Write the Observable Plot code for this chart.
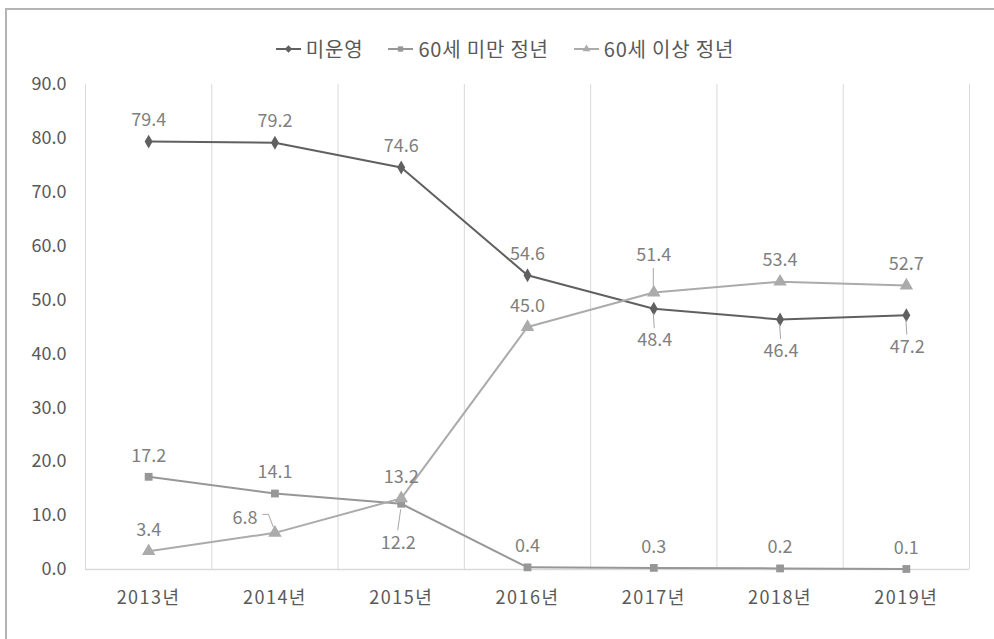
<!DOCTYPE html>
<html>
<head>
<meta charset="utf-8">
<script src="https://cdn.jsdelivr.net/npm/d3@7"></script>
<script src="https://cdn.jsdelivr.net/npm/@observablehq/plot@0.6"></script>
<style>
  html, body { margin: 0; padding: 0; background: #fff; }
  #frame { position: relative; width: 994px; height: 639px; overflow: hidden; font-family: "Noto Sans CJK KR", "Noto Sans", sans-serif; }
  #border { position: absolute; left: 5px; top: 8px; width: 1100px; height: 800px; border-left: 2px solid #b4b4b4; border-top: 2px solid #b4b4b4; }
  #legend { position: absolute; top: 34px; left: 8px; width: 994px; display: flex; justify-content: center; gap: 25px; font-size: 20px; letter-spacing: 0.8px; color: #595959; }
  #legend .item { display: flex; align-items: center; }
  #legend svg { margin-right: 5px; }
  #chart { position: absolute; left: 0; top: 64px; }
  #chart g[aria-label="x-axis tick label"] text { letter-spacing: 1.5px; }
</style>
</head>
<body>
<div id="frame">
  <div id="border"></div>
  <div id="legend"></div>
  <div id="chart"></div>
</div>
<script>
// ---- data ----
const years = [2013, 2014, 2015, 2016, 2017, 2018, 2019];
const seriesNames = ["미운영", "60세 미만 정년", "60세 이상 정년"];
const unoperated = [79.4, 79.2, 74.6, 54.6, 48.4, 46.4, 47.2];
const under60 = [17.2, 14.1, 12.2, 0.4, 0.3, 0.2, 0.1];
const over60 = [3.4, 6.8, 13.2, 45.0, 51.4, 53.4, 52.7];
const yTicks = [0, 10, 20, 30, 40, 50, 60, 70, 80, 90];
// label placement keys per point
const placeUnoperated = ["above", "above", "above", "above", "below", "below", "below"];
const placeUnder60 = ["above", "above", "belowFar", "above", "above", "above", "above"];
const placeOver60 = ["above", "left", "above", "above", "aboveFar", "above", "above"];

// ---- styling / layout ----
const styles = [
  {stroke: "#606060", symbol: "diamond", r: 4.2},
  {stroke: "#979797", symbol: "square", r: 4.4},
  {stroke: "#ababab", symbol: "triangle", r: 5}
];
const placements = {
  above:    {dx: 0,   dy: -21},
  below:    {dx: 1,   dy: 32, lead: [[0, 5], [1, 20]]},
  belowFar: {dx: -3,  dy: 39, lead: [[0, 6], [-3, 27]]},
  aboveFar: {dx: 0,   dy: -37, lead: [[0, -6], [0, -24]]},
  left:     {dx: -30, dy: -15, lead: [[-1, -5], [-6, -18], [-12, -18]]}
};

const values = [unoperated, under60, over60];
const places = [placeUnoperated, placeUnder60, placeOver60];
const rows = [];
seriesNames.forEach((s, si) => {
  years.forEach((yr, i) => rows.push({series: s, si, year: yr, value: values[si][i], place: places[si][i]}));
});
const boundaries = [...years.map(y => y - 0.5), years[years.length - 1] + 0.5];

const marks = [
  Plot.ruleX(boundaries, {x: d => d, y1: 0, y2: yTicks[yTicks.length - 1], stroke: "#d9d9d9", strokeWidth: 1}),
  Plot.ruleY([0], {stroke: "#d9d9d9", strokeWidth: 1.5}),
  Plot.axisY({ticks: yTicks, tickFormat: d => d.toFixed(1), tickSize: 0, tickPadding: 19, fill: "#595959", fontSize: 18, label: null}),
  Plot.axisX({ticks: years, tickFormat: d => d + "년", tickSize: 0, tickPadding: 22, fill: "#595959", fontSize: 18, label: null})
];
seriesNames.forEach((s, si) => {
  const data = rows.filter(d => d.si === si);
  marks.push(Plot.line(data, {x: "year", y: "value", stroke: styles[si].stroke, strokeWidth: 2}));
  marks.push(Plot.dot(data, {x: "year", y: "value", symbol: styles[si].symbol, r: styles[si].r, fill: styles[si].stroke, stroke: "none"}));
});
// leader lines drawn through the plot's scales
marks.push((index, scales) => {
  const g = d3.create("svg:g").attr("fill", "none").attr("stroke", "#a6a6a6").attr("stroke-width", 1);
  rows.forEach(d => {
    const p = placements[d.place];
    if (!p.lead) return;
    const px = scales.x(d.year), py = scales.y(d.value);
    g.append("path").attr("d", "M" + p.lead.map(([a, b]) => (px + a) + "," + (py + b)).join("L"));
  });
  return g.node();
});
Object.keys(placements).forEach(key => {
  const p = placements[key];
  marks.push(Plot.text(rows.filter(d => d.place === key), {
    x: "year", y: "value", text: d => d.value.toFixed(1),
    dx: p.dx, dy: p.dy, fill: "#7f7f7f", fontSize: 18
  }));
});

const chart = Plot.plot({
  width: 994,
  height: 575,
  marginTop: 20,
  marginBottom: 70,
  marginLeft: 85,
  marginRight: 25,
  x: {type: "linear", domain: [years[0] - 0.5, years[years.length - 1] + 0.5]},
  y: {domain: [0, 90]},
  style: {fontFamily: "'Noto Sans CJK KR', 'Noto Sans', sans-serif", fontSize: "18px", background: "transparent"},
  marks
});
document.getElementById("chart").appendChild(chart);

// legend
const legend = d3.select("#legend");
seriesNames.forEach((s, si) => {
  const item = legend.append("div").attr("class", "item");
  const svg = item.append("svg").attr("width", 25).attr("height", 14);
  svg.append("line").attr("x1", 0).attr("x2", 25).attr("y1", 7).attr("y2", 7).attr("stroke", styles[si].stroke).attr("stroke-width", 2);
  svg.append("path").attr("transform", "translate(12.5,7)")
    .attr("d", d3.symbol(si === 0 ? d3.symbolDiamond2 : si === 1 ? d3.symbolSquare2 : d3.symbolTriangle2, si === 2 ? 45 : 36)())
    .attr("fill", styles[si].stroke);
  item.append("span").text(s);
});
</script>
</body>
</html>
